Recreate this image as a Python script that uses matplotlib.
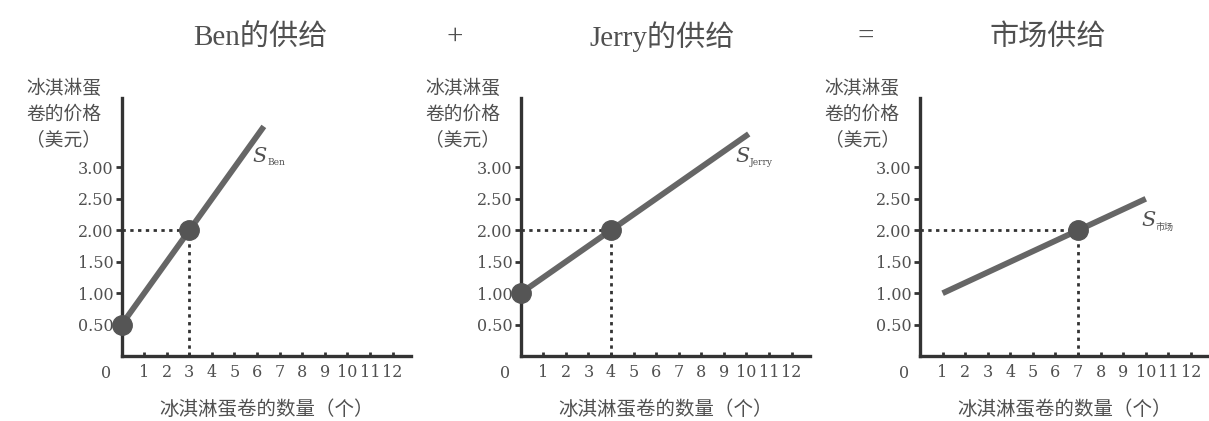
import matplotlib
matplotlib.use('Agg')
import matplotlib.pyplot as plt

plt.rcParams['font.family'] = ['Noto Sans CJK SC', 'DejaVu Sans']

# data
titles = ['Ben的供给', 'Jerry的供给', '市场供给']
operators = ['+', '=']
curve_names = ['Ben', 'Jerry', '市场']

ben_line_q = [0, 6.3]
ben_line_p = [0.5, 3.65]
ben_dots_q = [0, 3]
ben_dots_p = [0.5, 2.0]

jerry_line_q = [0, 10.1]
jerry_line_p = [1.0, 3.53]
jerry_dots_q = [0, 4]
jerry_dots_p = [1.0, 2.0]

market_line_q = [1, 10]
market_line_p = [1.0, 2.5]
market_dots_q = [7]
market_dots_p = [2.0]

guide_q = [3, 4, 7]
guide_p = [2.0, 2.0, 2.0]
label_pos = [(5.8, 3.18), (9.5, 3.18), (9.8, 2.16)]

price_ticks = [0.5, 1.0, 1.5, 2.0, 2.5, 3.0]
qty_ticks = list(range(1, 13))

lines = [(ben_line_q, ben_line_p), (jerry_line_q, jerry_line_p), (market_line_q, market_line_p)]
dots = [(ben_dots_q, ben_dots_p), (jerry_dots_q, jerry_dots_p), (market_dots_q, market_dots_p)]

fig = plt.figure(figsize=(12.09, 4.21), dpi=100)
lefts = [0.1006, 0.4307, 0.761]
width = 0.239
bottom, height = 0.154, 0.613

txt = '#505050'
serif = 'DejaVu Serif'
title_font = ['Liberation Serif', 'Noto Sans CJK SC']

for i in range(3):
    ax = fig.add_axes([lefts[i], bottom, width, height])
    ax.set_xlim(0, 12.8)
    ax.set_ylim(0, 4.1)
    for s in ['top', 'right']:
        ax.spines[s].set_visible(False)
    for s in ['left', 'bottom']:
        ax.spines[s].set_linewidth(2.4)
        ax.spines[s].set_color('#333333')

    q, p = lines[i]
    ax.plot(q, p, color='#666666', lw=4.2, solid_capstyle='butt', zorder=3)
    dq, dp = dots[i]
    ax.plot(dq, dp, 'o', color='#555555', ms=14, zorder=4, clip_on=False)

    # dotted guides to the highlighted point
    gq, gp = guide_q[i], guide_p[i]
    ax.plot([0, gq], [gp, gp], color='#333333', lw=2, ls=(0, (1.2, 1.6)), zorder=2)
    ax.plot([gq, gq], [0, gp], color='#333333', lw=2, ls=(0, (1.2, 1.6)), zorder=2)

    ax.set_yticks(price_ticks)
    ax.set_yticklabels([f'{v:.2f}' for v in price_ticks], family=serif, fontsize=11.5, color=txt)
    ax.set_xticks(qty_ticks)
    ax.set_xticklabels([str(v) for v in qty_ticks], family=serif, fontsize=11.5, color=txt)
    ax.tick_params(axis='y', direction='out', length=4, width=2, color='#333333', pad=2)
    ax.tick_params(axis='x', direction='in', length=3, width=2, color='#333333', pad=6)
    ax.text(-0.7, -0.27, '0', family=serif, fontsize=11.5, color=txt, ha='center', va='center')

    # curve label: italic S with a small subscript
    sx, sy = label_pos[i]
    ax.text(sx, sy, 'S', family=serif, style='italic', fontsize=15, color=txt, ha='left', va='center')
    ax.annotate(curve_names[i], (sx, sy), xytext=(10.5, -5), textcoords='offset points',
                family=[serif, 'Noto Sans CJK SC'], fontsize=6.5, color=txt, ha='left', va='center')

    ax.text(6.4, -0.85, '冰淇淋蛋卷的数量（个）', fontsize=14, color=txt, ha='center', va='center')

    fig.text(lefts[i] - 58 / 1209, 1 - 78 / 421, '冰淇淋蛋\n卷的价格\n（美元）', fontsize=13.5,
             color=txt, ha='center', va='top', linespacing=1.3)

title_x = [260, 662, 1048]
for x, t in zip(title_x, titles):
    fig.text(x / 1209, 1 - 37 / 421, t, family=title_font, fontsize=21, color=txt, ha='center', va='center')
for x, t in zip([455, 866], operators):
    fig.text(x / 1209, 1 - 37 / 421, t, family=title_font, fontsize=21, color=txt, ha='center', va='center')

fig.savefig('out.png', dpi=100, facecolor='white')
